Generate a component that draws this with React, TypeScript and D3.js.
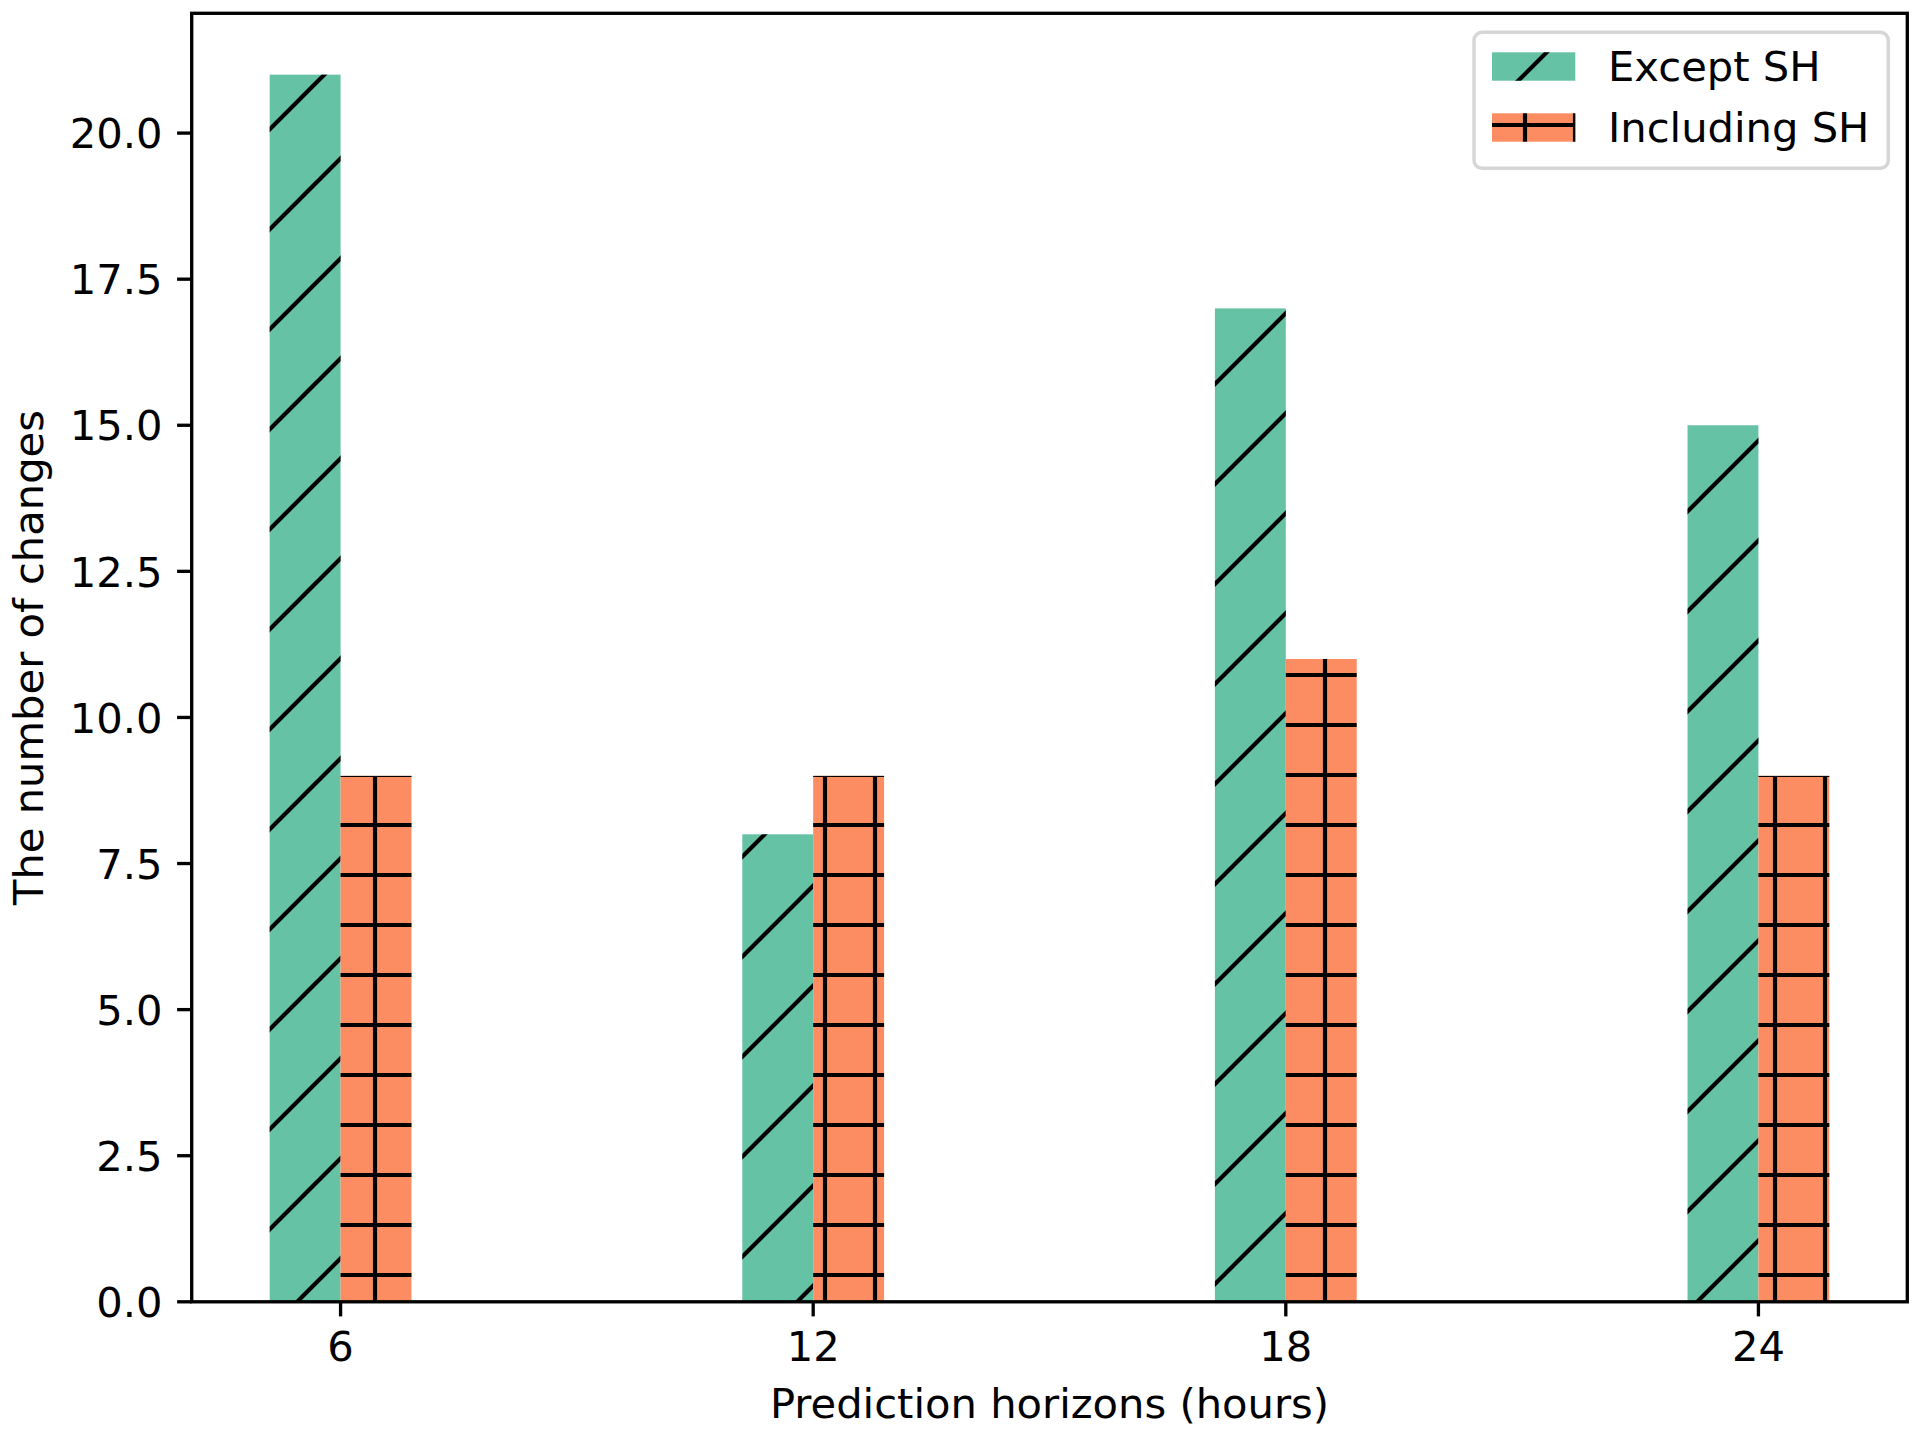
import * as d3 from 'd3';
import React from 'react';

// values
const horizons = ['6', '12', '18', '24'];
const exceptSH = [21, 8, 17, 15];
const includingSH = [9, 9, 11, 9];
const yTicks = [0, 2.5, 5, 7.5, 10, 12.5, 15, 17.5, 20];
const seriesNames = ['Except SH', 'Including SH'];
const seriesColors = ['#66c2a5', '#fc8d62'];

const W = 1920;
const H = 1440;
const box = { left: 191.7, right: 1907.3, top: 13.3, bottom: 1301.8 };
const barWidth = 0.15;
const fs = 41.67;
const lw = 3.33;
const tickLen = 14.6;
const font = 'DejaVu Sans, sans-serif';

const App: React.FC = () => {
  const idx = horizons.map((_, i) => i);
  const lo = -barWidth;
  const hi = horizons.length - 1 + barWidth;
  const pad = (hi - lo) * 0.05;

  const x = d3.scaleLinear().domain([lo - pad, hi + pad]).range([box.left, box.right]);
  const yMax = (d3.max([...exceptSH, ...includingSH]) as number) * 1.05;
  const y = d3.scaleLinear().domain([0, yMax]).range([box.bottom, box.top]);

  const bars = [
    { values: exceptSH, offset: -barWidth, hatch: 'url(#diag)' },
    { values: includingSH, offset: 0, hatch: 'url(#plus)' },
  ];

  const diagLines = [-1, 99, 199].map(c => `M${c + 10},-10L${c - 110},110`).join('');

  return (
    <div style={{ position: 'absolute', left: 0, top: 0 }}>
      <svg width={W} height={H} style={{ display: 'block', background: '#fff' }}>
        <defs>
          <pattern id="diag" patternUnits="userSpaceOnUse" x={0} y={0} width={100} height={100}>
            <path d={diagLines} stroke="#000" strokeWidth={4.17} fill="none" />
          </pattern>
          <pattern id="plus" patternUnits="userSpaceOnUse" x={0} y={0} width={50} height={50}>
            <path d="M-5,25H55M25,-5V55" stroke="#000" strokeWidth={4.17} fill="none" />
          </pattern>
        </defs>

        {bars.map((s, k) =>
          idx.map(i => {
            const x0 = x(i + s.offset);
            const x1 = x(i + s.offset + barWidth);
            const y0 = y(s.values[i]);
            const h = y(0) - y0;
            return (
              <g key={`${k}-${i}`}>
                <rect x={x0} y={y0} width={x1 - x0} height={h} fill={seriesColors[k]} />
                <rect x={x0} y={y0} width={x1 - x0} height={h} fill={s.hatch} />
              </g>
            );
          })
        )}

        {/* spines */}
        <rect
          x={box.left}
          y={box.top}
          width={box.right - box.left}
          height={box.bottom - box.top}
          fill="none"
          stroke="#000"
          strokeWidth={lw}
        />

        {/* y axis */}
        {yTicks.map(t => (
          <g key={`y${t}`}>
            <line x1={box.left - tickLen} x2={box.left} y1={y(t)} y2={y(t)} stroke="#000" strokeWidth={lw} />
            <text
              x={box.left - tickLen - 14.6}
              y={y(t) + fs * 0.364}
              textAnchor="end"
              fontFamily={font}
              fontSize={fs}
            >
              {t.toFixed(1)}
            </text>
          </g>
        ))}

        {/* x axis */}
        {idx.map(i => (
          <g key={`x${i}`}>
            <line x1={x(i)} x2={x(i)} y1={box.bottom} y2={box.bottom + tickLen} stroke="#000" strokeWidth={lw} />
            <text x={x(i)} y={1361} textAnchor="middle" fontFamily={font} fontSize={fs}>
              {horizons[i]}
            </text>
          </g>
        ))}

        <text
          x={(box.left + box.right) / 2}
          y={1418}
          textAnchor="middle"
          fontFamily={font}
          fontSize={fs}
        >
          Prediction horizons (hours)
        </text>
        <text
          transform={`translate(43, ${(box.top + box.bottom) / 2}) rotate(-90)`}
          textAnchor="middle"
          fontFamily={font}
          fontSize={fs}
        >
          The number of changes
        </text>

        {/* legend */}
        <rect x={1474} y={32.3} width={414.3} height={136} rx={8} fill="#fff" fillOpacity={0.8} stroke="#d6d6d6" strokeWidth={3.5} />
        {seriesNames.map((name, k) => {
          const py = 52.3 + k * 61;
          return (
            <g key={name}>
              <rect x={1492} y={py} width={83.3} height={28.4} fill={seriesColors[k]} />
              <rect x={1492} y={py} width={83.3} height={28.4} fill={k === 0 ? 'url(#diag)' : 'url(#plus)'} />
              <text x={1608} y={py + 28.4} fontFamily={font} fontSize={fs}>
                {name}
              </text>
            </g>
          );
        })}
      </svg>
    </div>
  );
};

export default App;
